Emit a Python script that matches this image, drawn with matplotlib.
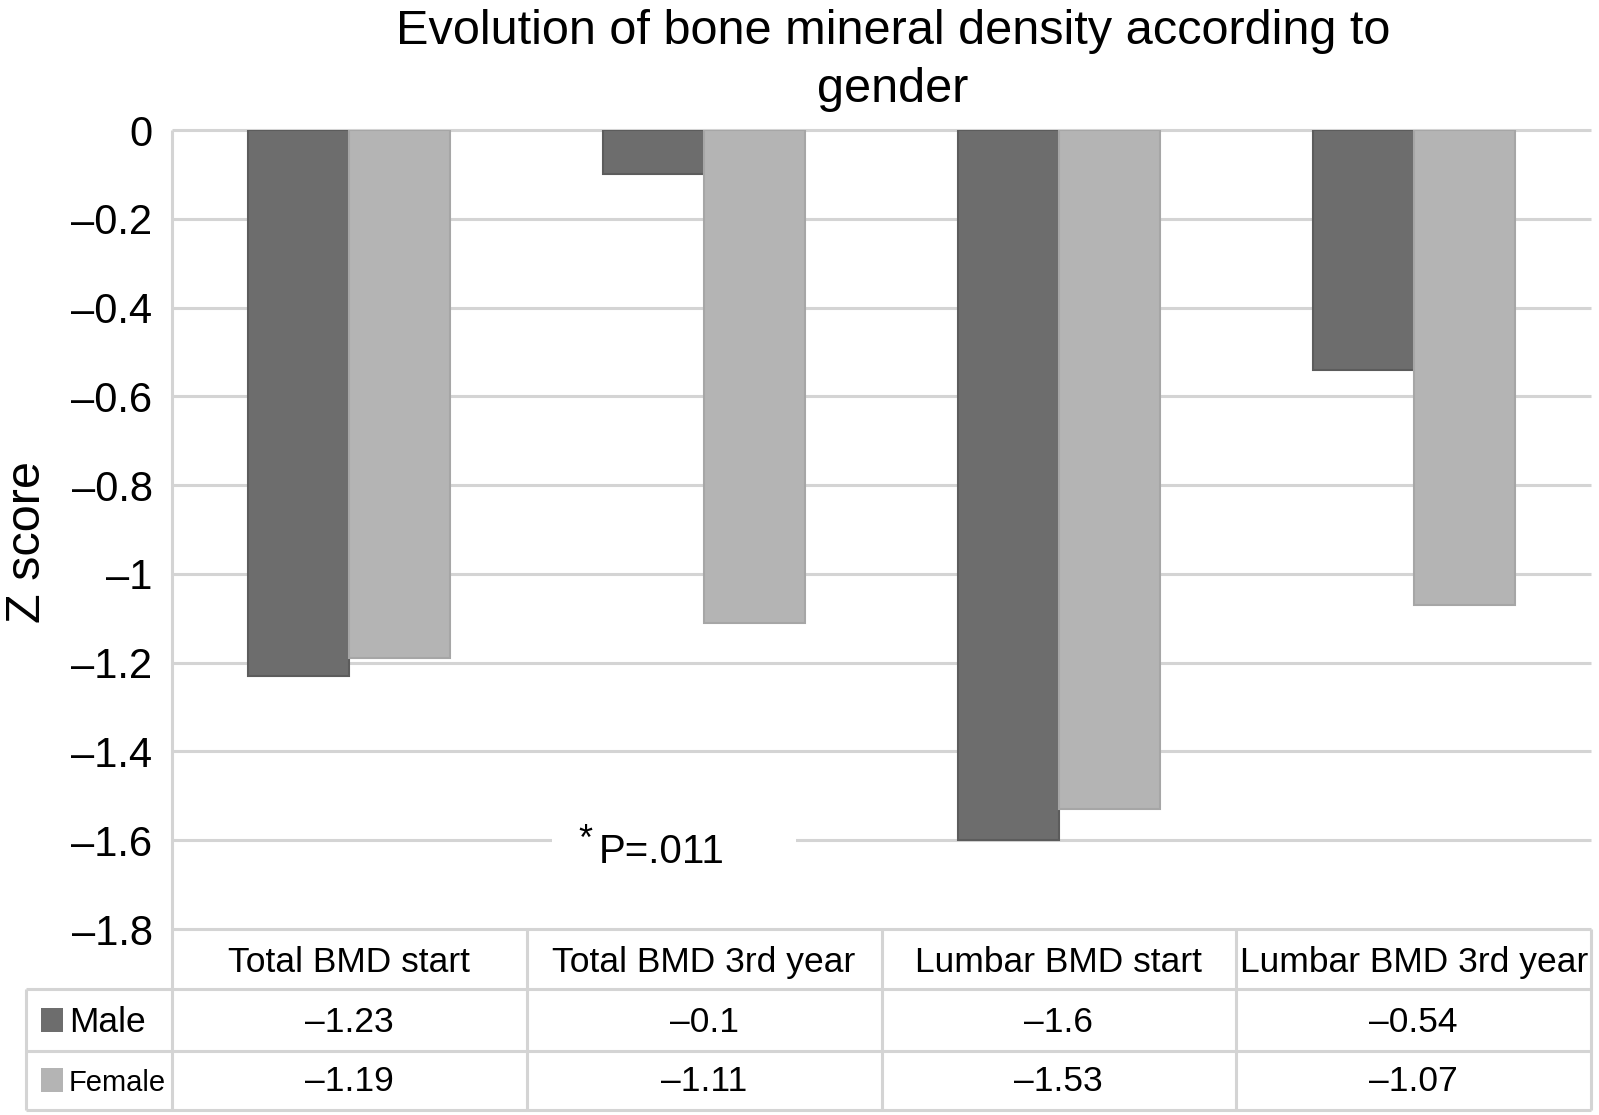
import numpy as np
import matplotlib
matplotlib.use("Agg")
import matplotlib.pyplot as plt
from matplotlib.patches import Rectangle

plt.rcParams['font.family'] = ['Liberation Sans', 'DejaVu Sans']

# ---------------- data ----------------
title_lines = ["Evolution of bone mineral density according to", "gender"]
ylabel = "Z score"
categories = ["Total BMD start", "Total BMD 3rd year", "Lumbar BMD start", "Lumbar BMD 3rd year"]
series_names = ["Male", "Female"]
male = [-1.23, -0.1, -1.6, -0.54]
female = [-1.19, -1.11, -1.53, -1.07]
yticks = [0, -0.2, -0.4, -0.6, -0.8, -1.0, -1.2, -1.4, -1.6, -1.8]
ytick_labels = ["0", "–0.2", "–0.4", "–0.6", "–0.8", "–1", "–1.2", "–1.4", "–1.6", "–1.8"]
annotation = "P=.011"

# ---------------- style ----------------
W, H = 1599, 1115
male_color, male_edge = "#6d6d6d", "#5c5c5c"
female_color, female_edge = "#b4b4b4", "#a6a6a6"
grid_color = "#d4d4d4"
line_w = 2.2

fig = plt.figure(figsize=(W / 100, H / 100), dpi=100)


def fx(px):
    return px / W


def fy(py):
    return 1 - py / H


ax = fig.add_axes([fx(172), fy(929), fx(1591) - fx(172), fy(130) - fy(929)], zorder=2)
ax.patch.set_alpha(0)
ax.set_xlim(0, len(categories))
ax.set_ylim(min(yticks), max(yticks))

x = np.arange(len(categories)) + 0.5
bw = 0.285
ax.bar(x - bw / 2, male, width=bw, color=male_color, edgecolor=male_edge, linewidth=1.5, zorder=3)
ax.bar(x + bw / 2, female, width=bw, color=female_color, edgecolor=female_edge, linewidth=1.5, zorder=3)

ax.hlines(yticks, 0, len(categories), colors=grid_color, linewidth=line_w, zorder=1, clip_on=False)
ax.set_xticks([])
ax.set_yticks(yticks)
ax.set_yticklabels(ytick_labels, fontsize=30)
ax.tick_params(axis='y', length=0, pad=14)
for s in ax.spines.values():
    s.set_visible(False)

# annotation with white background breaking the gridline
ax.add_patch(Rectangle((1.07, -1.625), 0.688, 0.05, facecolor="white", edgecolor="none", zorder=2))
ax.text(1.203, -1.651, annotation, fontsize=29, ha="left", va="baseline", zorder=4)
ax.text(1.146, -1.562, "*", fontsize=26, ha="left", va="top", zorder=4)

# ---------------- overlay for title, label and data table ----------------
ov = fig.add_axes([0, 0, 1, 1], zorder=1)
ov.set_xlim(0, W)
ov.set_ylim(H, 0)
ov.axis("off")

ov.text(893, 44, title_lines[0], fontsize=35, ha="center", va="baseline")
ov.text(893, 102, title_lines[1], fontsize=35, ha="center", va="baseline")
ov.text(28, 542, ylabel, fontsize=35, rotation=90, ha="center", va="center")

# column edges in pixel coordinates derived from the axes
col_px = [ax.transData.transform((k, 0))[0] for k in range(len(categories) + 1)]
lc = dict(color=grid_color, linewidth=line_w, solid_capstyle="butt")
y_top, y_r1, y_r2, y_bot = 929, 989, 1051, 1110
x_leg = 26

ov.plot([col_px[0], col_px[0]], [130, y_bot], **lc)
for cx in col_px[1:]:
    ov.plot([cx, cx], [y_top, y_bot], **lc)
ov.plot([x_leg, x_leg], [y_r1, y_bot], **lc)
for yy in (y_r1, y_r2, y_bot):
    ov.plot([x_leg, col_px[-1]], [yy, yy], **lc)

centers = [(col_px[i] + col_px[i + 1]) / 2 for i in range(len(categories))]
for c, cat in zip(centers, categories):
    ov.text(c, 972, cat, fontsize=25.5, ha="center", va="baseline")


def fmt(v):
    return ("–" if v < 0 else "") + f"{abs(v):g}"


rows = [(male, male_color, 1032, 25.5, 1008), (female, female_color, 1091, 21, 1068)]
for name, (vals, col, base, fs, sw_top) in zip(series_names, rows):
    ov.add_patch(Rectangle((41, sw_top), 22, 24, facecolor=col, edgecolor="none"))
    ov.text(69, base, name, fontsize=fs, ha="left", va="baseline")
    for c, v in zip(centers, vals):
        ov.text(c, base, fmt(v), fontsize=25.5, ha="center", va="baseline")

fig.savefig("out.png", dpi=100, facecolor="white")
